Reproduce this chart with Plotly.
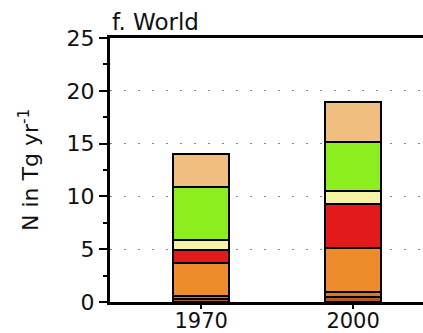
import plotly.graph_objects as go

years = ["1970", "2000"]

# Stacked nitrogen components (Tg N per year), bottom to top
brown = [0.3, 0.45]
dark_orange = [0.3, 0.5]
orange = [3.1, 4.2]
red = [1.2, 4.1]
pale_yellow = [1.0, 1.3]
green = [5.0, 4.6]
tan = [3.1, 3.8]

series = [
    (brown, "#B35A1F"),
    (dark_orange, "#D97A22"),
    (orange, "#EE8B2B"),
    (red, "#E31A1C"),
    (pale_yellow, "#F6F4A4"),
    (green, "#8CEE1C"),
    (tan, "#F0BE7E"),
]

y_ticks = [0, 5, 10, 15, 20, 25]

fig = go.Figure()
for values, color in series:
    fig.add_trace(go.Bar(
        x=years, y=values, width=0.37,
        marker=dict(color=color, line=dict(color="black", width=2)),
        showlegend=False,
    ))

font = "DejaVu Sans, Verdana, sans-serif"
fig.update_layout(
    barmode="stack",
    width=423, height=333,
    margin=dict(l=110, r=0, t=38, b=31, autoexpand=False),
    plot_bgcolor="white", paper_bgcolor="white",
    font=dict(family=font, size=22, color="#111111"),
    xaxis=dict(
        type="category", range=[-0.6, 1.46], automargin=False,
        showline=True, linecolor="black", linewidth=2.5, mirror=True,
        ticks="outside", ticklen=4, tickwidth=1.5, tickcolor="black",
        tickfont=dict(size=21), ticklabelstandoff=-6, showgrid=False,
    ),
    yaxis=dict(
        range=[0, 25], tickvals=y_ticks, automargin=False,
        showline=True, linecolor="black", linewidth=3,
        ticks="outside", ticklen=8, tickwidth=1.5, tickcolor="black",
        minor=dict(dtick=2.5, ticks="outside", ticklen=4, tickwidth=1.5,
                   tickcolor="black", showgrid=False),
        showgrid=True, gridcolor="#888888", gridwidth=1.2, griddash="2px,12px",
        zeroline=False, tickfont=dict(size=22),
    ),
    annotations=[
        dict(
            text="f. World", xref="paper", yref="paper", x=0, y=1,
            xanchor="left", yanchor="bottom", showarrow=False,
            font=dict(size=23), yshift=1,
        ),
        dict(
            text="N in Tg yr<sup>-1</sup>", xref="paper", yref="paper",
            x=0, y=0.5, xshift=-81, xanchor="center", yanchor="middle",
            textangle=-90, showarrow=False, font=dict(size=22),
        ),
    ],
)

fig.write_html("out.html")
